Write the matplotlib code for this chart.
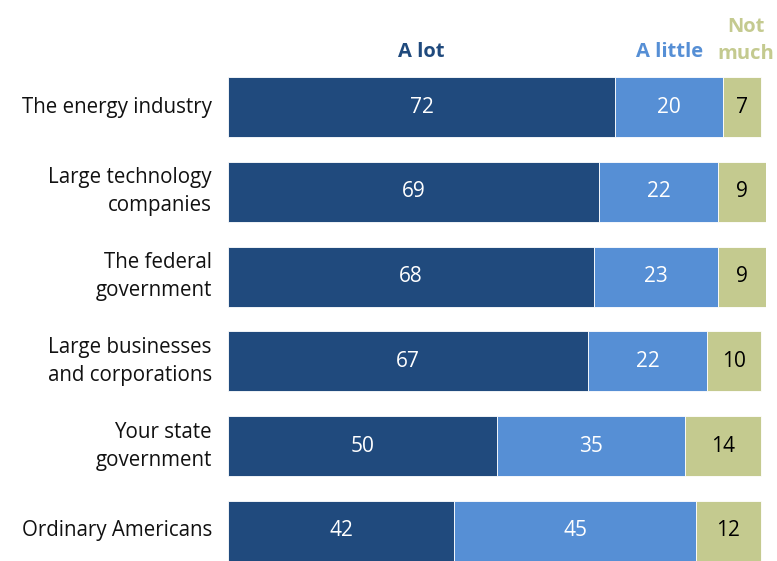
import matplotlib.pyplot as plt

categories = ['The energy industry', 'Large technology\ncompanies', 'The federal\ngovernment',
              'Large businesses\nand corporations', 'Your state\ngovernment', 'Ordinary Americans']
a_lot = [72, 69, 68, 67, 50, 42]
a_little = [20, 22, 23, 22, 35, 45]
not_much = [7, 9, 9, 10, 14, 12]

series = [('A lot', a_lot, '#204a7d', 'white'),
          ('A little', a_little, '#568fd5', 'white'),
          ('Not\nmuch', not_much, '#c4ca8f', 'black')]

plt.rcParams['font.family'] = ['Open Sans', 'DejaVu Sans']

W, H = 777, 561
fig = plt.figure(figsize=(W / 100, H / 100), dpi=100)
ax = fig.add_axes([228 / W, 0, (766 - 228) / W, 1 - 77 / H])

bar_h = 0.71
ypos = list(range(len(categories)))
left = [0] * len(categories)
for name, vals, color, tcolor in series:
    ax.barh(ypos, vals, left=left, height=bar_h, color=color, edgecolor='white', linewidth=0.6)
    for y, l, v in zip(ypos, left, vals):
        ax.text(l + v / 2, y, str(v), ha='center', va='center', color=tcolor, fontsize=15)
    left = [l + v for l, v in zip(left, vals)]

ax.set_xlim(0, 100)
ax.set_ylim(len(categories) - 1 + bar_h / 2, -bar_h / 2)
ax.axis('off')

for y, cat in zip(ypos, categories):
    ax.text(-3.0, y, cat, ha='right', va='center', fontsize=14.8, color='#111111', linespacing=1.45)

# column headers above the first bar
hdr_y = -bar_h / 2 - 0.3
ax.text(a_lot[0] / 2, hdr_y, 'A lot', ha='center', va='center', fontsize=14.5,
        fontweight='bold', color=series[0][2])
ax.text(a_lot[0] + a_little[0] / 2, hdr_y, 'A little', ha='center', va='center', fontsize=14.5,
        fontweight='bold', color=series[1][2])
ax.text(96.2, hdr_y + 0.15, 'Not\nmuch', ha='center', va='bottom', multialignment='center',
        fontsize=14.5, fontweight='bold', color=series[2][2], linespacing=1.5)

fig.savefig('out.png', dpi=100)
